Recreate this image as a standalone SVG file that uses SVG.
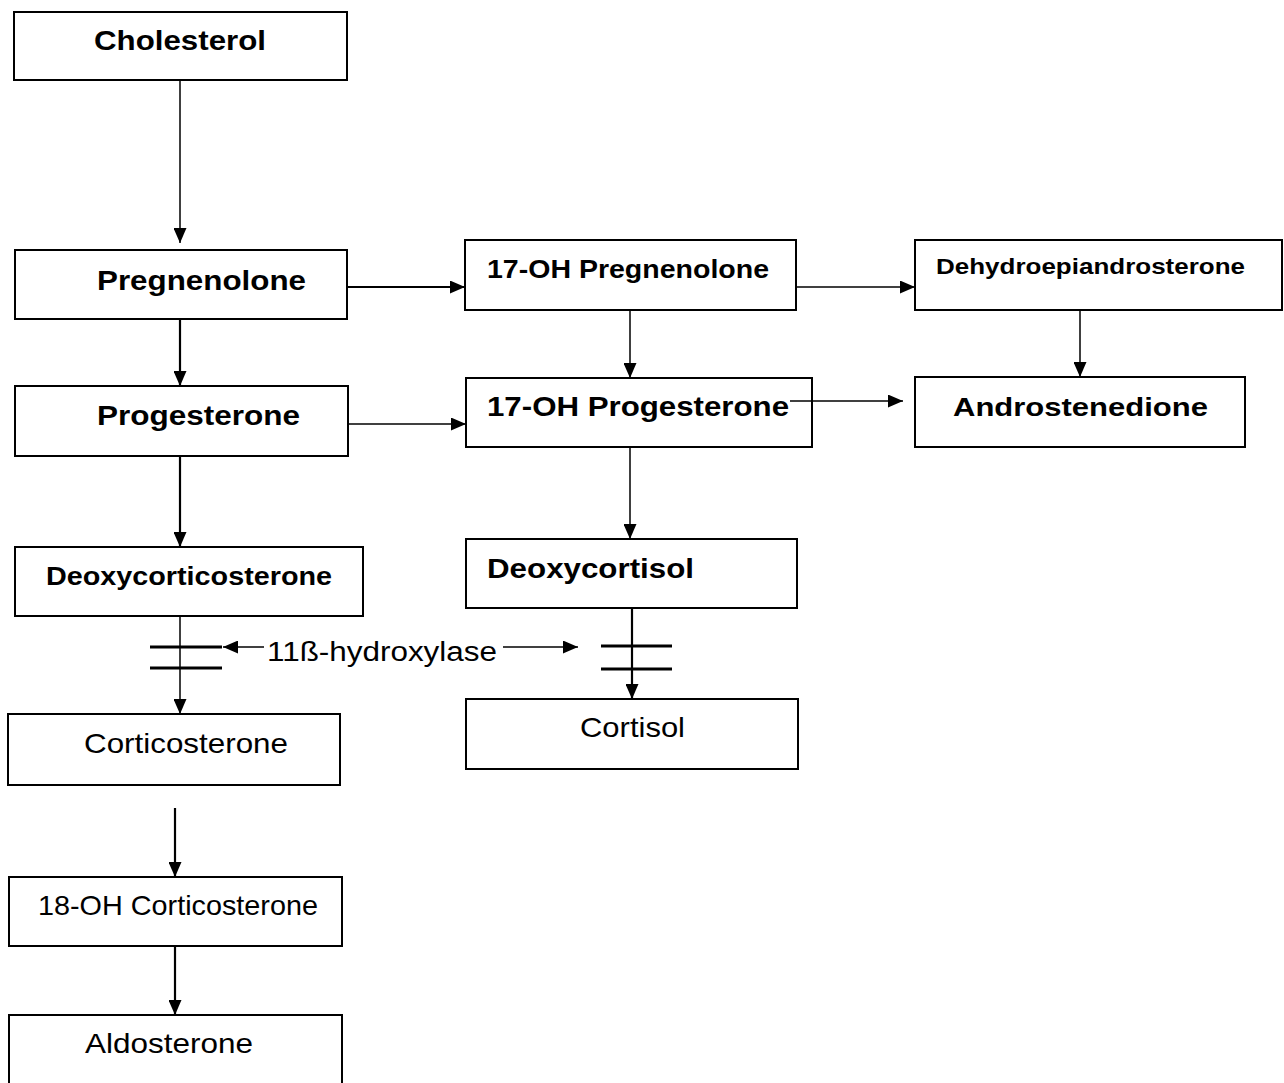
<svg xmlns="http://www.w3.org/2000/svg" width="1284" height="1083" viewBox="0 0 1284 1083">
  <style>
    .box { fill: #fff; stroke: #000; stroke-width: 2; }
    .lbl { font-family: "Liberation Sans", Arial, sans-serif; fill: #000; }
    .b { font-weight: bold; font-size: 28px; }
    .bs { font-weight: bold; font-size: 22px; }
    .r { font-weight: normal; font-size: 28px; }
    .ln { fill: none; stroke: #000; stroke-width: 1.5; }
    .ln.thick { stroke-width: 2.2; }
    .bar { stroke: #000; stroke-width: 3; }
  </style>
  <defs>
    <marker id="ah" markerUnits="userSpaceOnUse" viewBox="0 0 15 13" refX="15" refY="6.5" markerWidth="15" markerHeight="13" orient="auto">
      <path d="M0,0 L15,6.5 L0,13 Z" fill="#000"/>
    </marker>
  </defs>
  <rect width="1284" height="1083" fill="#fff"/>

  <!-- connectors -->
  <g id="connectors">
    <path class="ln" d="M180,80 V243" marker-end="url(#ah)"/>
    <path class="ln thick" d="M180,319 V386" marker-end="url(#ah)"/>
    <path class="ln thick" d="M180,456 V547" marker-end="url(#ah)"/>
    <path class="ln thick" d="M347,287 H465" marker-end="url(#ah)"/>
    <path class="ln" d="M348,424 H466" marker-end="url(#ah)"/>
    <path class="ln" d="M630,310 V378" marker-end="url(#ah)"/>
    <path class="ln" d="M796,287 H915" marker-end="url(#ah)"/>
    <path class="ln" d="M1080,310 V377" marker-end="url(#ah)"/>
    <path class="ln" d="M630,447 V539" marker-end="url(#ah)"/>
    <path class="ln" d="M180,616 V714" marker-end="url(#ah)"/>
    <path class="ln thick" d="M632,608 V699" marker-end="url(#ah)"/>
    <path class="ln thick" d="M175,808 V877" marker-end="url(#ah)"/>
    <path class="ln thick" d="M175,946 V1015" marker-end="url(#ah)"/>
    <!-- blocked 11-beta steps -->
    <line class="bar" x1="150" y1="647" x2="222" y2="647"/>
    <line class="bar" x1="150" y1="668" x2="222" y2="668"/>
    <line class="bar" x1="601" y1="646" x2="672" y2="646"/>
    <line class="bar" x1="601" y1="669" x2="672" y2="669"/>
    <!-- enzyme pointers -->
    <path class="ln" d="M264,647 H223" marker-end="url(#ah)"/>
    <path class="ln" d="M503,647 H578" marker-end="url(#ah)"/>
  </g>

  <g id="cholesterol">
    <rect class="box" x="14" y="12" width="333" height="68"/>
    <text class="lbl b" x="94" y="50" textLength="172" lengthAdjust="spacingAndGlyphs">Cholesterol</text>
  </g>
  <g id="pregnenolone">
    <rect class="box" x="15" y="250" width="332" height="69"/>
    <text class="lbl b" x="97" y="290" textLength="209" lengthAdjust="spacingAndGlyphs">Pregnenolone</text>
  </g>
  <g id="progesterone">
    <rect class="box" x="15" y="386" width="333" height="70"/>
    <text class="lbl b" x="97" y="425" textLength="203" lengthAdjust="spacingAndGlyphs">Progesterone</text>
  </g>
  <g id="deoxycorticosterone">
    <rect class="box" x="15" y="547" width="348" height="69"/>
    <text class="lbl b" x="46" y="585" textLength="286" lengthAdjust="spacingAndGlyphs" style="font-size:25px">Deoxycorticosterone</text>
  </g>
  <g id="corticosterone">
    <rect class="box" x="8" y="714" width="332" height="71"/>
    <text class="lbl r" x="84" y="753" textLength="204" lengthAdjust="spacingAndGlyphs">Corticosterone</text>
  </g>
  <g id="oh18-corticosterone">
    <rect class="box" x="9" y="877" width="333" height="69"/>
    <text class="lbl r" x="38" y="915" textLength="280" lengthAdjust="spacingAndGlyphs">18-OH Corticosterone</text>
  </g>
  <g id="aldosterone">
    <rect class="box" x="9" y="1015" width="333" height="80"/>
    <text class="lbl r" x="85" y="1053" textLength="168" lengthAdjust="spacingAndGlyphs">Aldosterone</text>
  </g>
  <g id="oh17-pregnenolone">
    <rect class="box" x="465" y="240" width="331" height="70"/>
    <text class="lbl b" x="487" y="278" textLength="282" lengthAdjust="spacingAndGlyphs" style="font-size:25px">17-OH Pregnenolone</text>
  </g>
  <g id="oh17-progesterone">
    <rect class="box" x="466" y="378" width="346" height="69"/>
    <text class="lbl b" x="487" y="416" textLength="302" lengthAdjust="spacingAndGlyphs" style="font-size:27px">17-OH Progesterone</text>
  </g>
  <g id="deoxycortisol">
    <rect class="box" x="466" y="539" width="331" height="69"/>
    <text class="lbl b" x="487" y="578" textLength="207" lengthAdjust="spacingAndGlyphs" style="font-size:27px">Deoxycortisol</text>
  </g>
  <g id="cortisol">
    <rect class="box" x="466" y="699" width="332" height="70"/>
    <text class="lbl r" x="580" y="737" textLength="105" lengthAdjust="spacingAndGlyphs">Cortisol</text>
  </g>
  <g id="dhea">
    <rect class="box" x="915" y="240" width="367" height="70"/>
    <text class="lbl bs" x="936" y="274" textLength="309" lengthAdjust="spacingAndGlyphs">Dehydroepiandrosterone</text>
  </g>
  <g id="androstenedione">
    <rect class="box" x="915" y="377" width="330" height="70"/>
    <text class="lbl b" x="953" y="416" textLength="255" lengthAdjust="spacingAndGlyphs" style="font-size:25px">Androstenedione</text>
  </g>
  <g id="enzyme">
    <text class="lbl r" x="267" y="661" textLength="230" lengthAdjust="spacingAndGlyphs" style="font-size:27px">11ß-hydroxylase</text>
  </g>
  <!-- 17-OH progesterone to androstenedione runs over the box edge -->
  <path class="ln" d="M790,401 H903" marker-end="url(#ah)"/>
</svg>
